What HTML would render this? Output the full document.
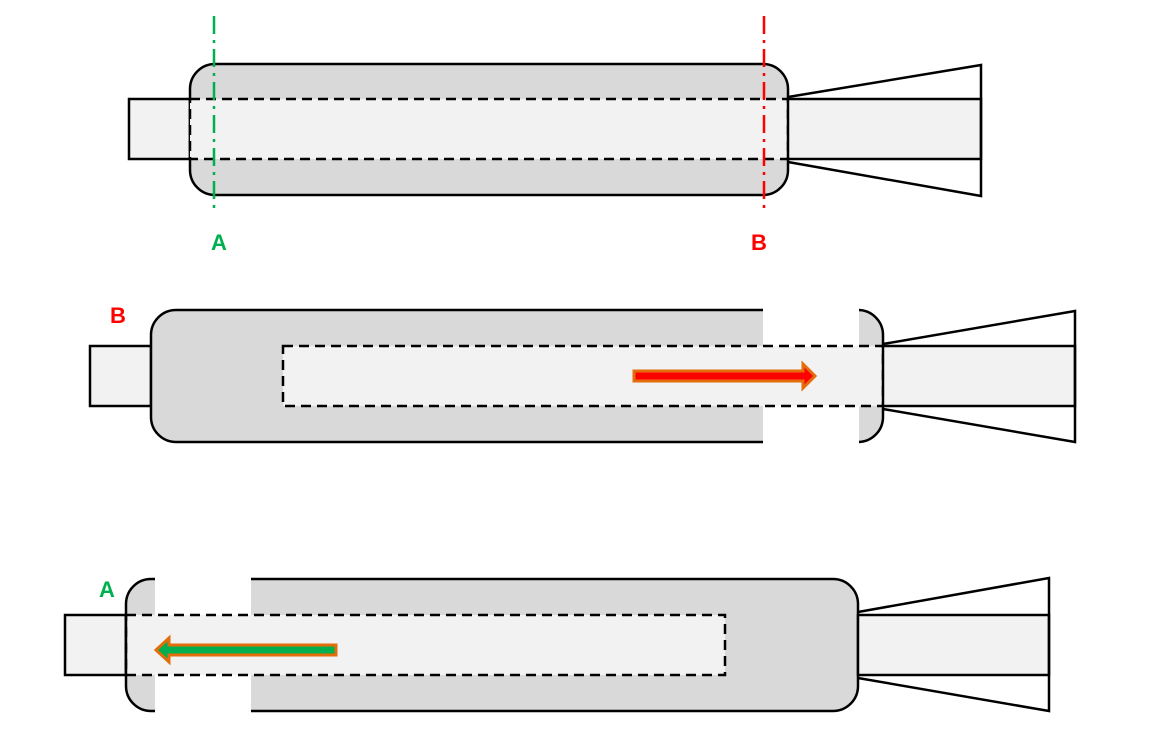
<!DOCTYPE html>
<html><head><meta charset="utf-8"><style>
html,body{margin:0;padding:0;background:#fff;}
svg{display:block;}
text{font-family:"Liberation Sans",sans-serif;font-weight:bold;font-size:22px;}
</style></head><body>
<svg width="1152" height="743" viewBox="0 0 1152 743" xmlns="http://www.w3.org/2000/svg">
<g stroke="#000" stroke-width="2.5" fill="none">
<!-- TOP -->
<rect x="129" y="99" width="61" height="60" fill="#f2f2f2"/>
<rect x="190" y="64" width="598" height="131" rx="25" fill="#d9d9d9"/>
<rect x="190" y="99" width="598" height="60" fill="#f2f2f2" stroke-dasharray="10,6"/>
<rect x="788" y="99" width="193" height="60" fill="#f2f2f2"/>
<polyline points="788,97 981,65 981,196 788,162"/>
<!-- MIDDLE -->
<rect x="90" y="346" width="61" height="60" fill="#f2f2f2"/>
<rect x="151" y="310" width="732" height="132" rx="25" fill="#d9d9d9"/>
<rect x="763" y="306" width="96" height="140" fill="#fff" stroke="none"/>
<rect x="283" y="346" width="600" height="60" fill="#f2f2f2" stroke-dasharray="10,6"/>
<rect x="883" y="346" width="192" height="60" fill="#f2f2f2"/>
<polyline points="883,344 1075,311 1075,442 883,409"/>
<!-- BOTTOM -->
<rect x="65" y="615" width="61" height="60" fill="#f2f2f2"/>
<rect x="126" y="579" width="732" height="132" rx="25" fill="#d9d9d9"/>
<rect x="155" y="575" width="96" height="140" fill="#fff" stroke="none"/>
<rect x="126" y="615" width="599" height="60" fill="#f2f2f2" stroke-dasharray="10,6"/>
<line x1="126" y1="615" x2="126" y2="675"/>
<rect x="858" y="615" width="191" height="60" fill="#f2f2f2"/>
<polyline points="858,612 1049,578 1049,711 858,678"/>
</g>
<!-- axis lines -->
<line x1="214" y1="16" x2="214" y2="212" stroke="#00b050" stroke-width="2.5" stroke-dasharray="18,6,3,6"/>
<line x1="764" y1="16" x2="764" y2="212" stroke="#ff0000" stroke-width="2.5" stroke-dasharray="18,6,3,6"/>
<text x="211" y="250" fill="#00b050">A</text>
<text x="751" y="250" fill="#ff0000">B</text>
<text x="110" y="323" fill="#ff0000">B</text>
<text x="99" y="597" fill="#00b050">A</text>
<!-- arrows -->
<polygon points="634,371 803,371 803,364 815,376 803,388 803,381 634,381" fill="#ff0000" stroke="#e46c0a" stroke-width="3"/>
<polygon points="336,645 169,645 169,638 156,650 169,662 169,655 336,655" fill="#00b050" stroke="#e46c0a" stroke-width="3"/>
</svg>
</body></html>
